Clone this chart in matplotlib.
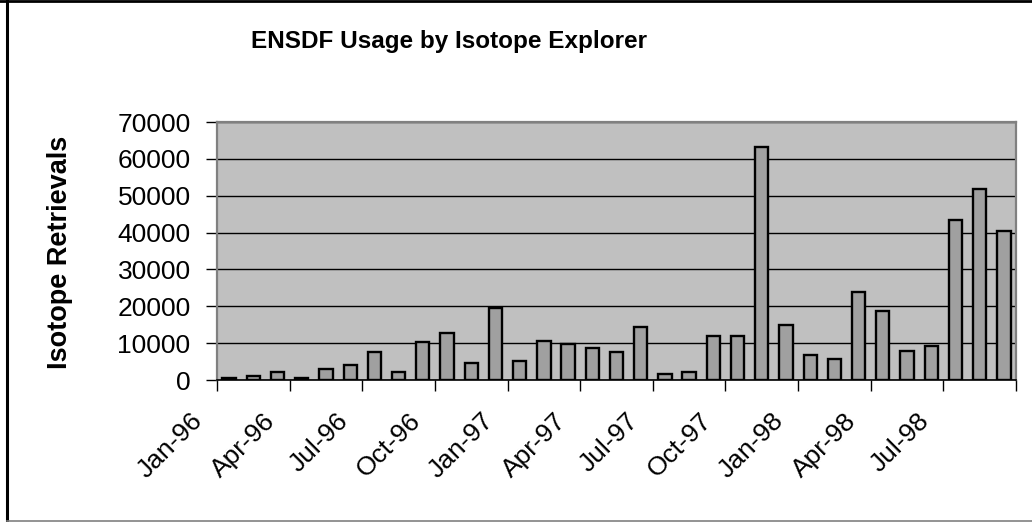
import matplotlib
matplotlib.use("Agg")
import matplotlib.pyplot as plt
from matplotlib.transforms import ScaledTranslation
from matplotlib.lines import Line2D
import numpy as np

months = ["Jan-96", "Feb-96", "Mar-96", "Apr-96", "May-96", "Jun-96", "Jul-96", "Aug-96",
          "Sep-96", "Oct-96", "Nov-96", "Dec-96", "Jan-97", "Feb-97", "Mar-97", "Apr-97",
          "May-97", "Jun-97", "Jul-97", "Aug-97", "Sep-97", "Oct-97", "Nov-97", "Dec-97",
          "Jan-98", "Feb-98", "Mar-98", "Apr-98", "May-98", "Jun-98", "Jul-98", "Aug-98",
          "Sep-98"]
retrievals = [600, 1200, 2250, 600, 3000, 4100, 7500, 2250, 10400, 12700, 4700, 19400,
              5200, 10700, 9700, 8700, 7500, 14300, 1600, 2200, 11900, 11900, 63200, 14800,
              6800, 5800, 23900, 18800, 8000, 9100, 43400, 51900, 40500]
y_ticks = [0, 10000, 20000, 30000, 40000, 50000, 60000, 70000]
title = "ENSDF Usage by Isotope Explorer"
ylabel = "Isotope Retrievals"

plt.rcParams['font.family'] = ['Liberation Sans', 'DejaVu Sans']

W, H = 1032, 522
fig = plt.figure(figsize=(W / 100, H / 100), dpi=100)
ax = fig.add_axes([217 / W, 1 - 380 / H, (1016 - 217) / W, (380 - 122) / H])
ax.set_facecolor("#c0c0c0")

x = np.arange(len(months))
ax.bar(x, retrievals, width=0.55, color="#a0a0a0", edgecolor="black", linewidth=1.7, zorder=3)

ax.set_xlim(-0.5, len(months) - 0.5)
ax.set_ylim(0, 70000)
ax.set_yticks(y_ticks)
ax.set_yticklabels([str(v) for v in y_ticks])
ax.yaxis.grid(True, color="black", linewidth=1.0, zorder=1)
ax.set_axisbelow(True)

# category boundary ticks (major, no labels), label positions (minor)
ax.set_xticks(np.arange(-0.5, len(months), 3))
ax.set_xticklabels([])
ax.set_xticks(x[::3], minor=True)
ax.set_xticklabels(months[::3], minor=True)
ax.tick_params(axis='x', which='major', length=8, width=1, color="black", direction='out')
ax.tick_params(axis='x', which='minor', length=0, pad=24, labelsize=19)
ax.tick_params(axis='y', length=8, width=1, color="black", direction='out', pad=11, labelsize=19)

for lab in ax.get_xticklabels(minor=True):
    lab.set_rotation(45)
    lab.set_rotation_mode('anchor')
    lab.set_ha('right')
    lab.set_va('center')
    lab.set_transform(lab.get_transform() + ScaledTranslation(-0.30, -0.04, fig.dpi_scale_trans))

for side in ["top", "right", "left"]:
    ax.spines[side].set_color("#808080")
    ax.spines[side].set_linewidth(1.6)
ax.spines["bottom"].set_color("black")
ax.spines["bottom"].set_linewidth(1.2)
ax.spines["bottom"].set_zorder(4)

fig.text(449 / W, 1 - 48 / H, title, ha='center', va='baseline', fontsize=17.5, fontweight='bold')
fig.text(60 / W, 1 - 252 / H, ylabel, ha='center', va='center', rotation=90,
         fontsize=19.5, fontweight='bold')

# chart frame
fig.add_artist(Line2D([7 / W, 7 / W], [0, 1], transform=fig.transFigure, color="black", linewidth=2.2))
fig.add_artist(Line2D([0, 1], [1 - 1 / H, 1 - 1 / H], transform=fig.transFigure, color="black", linewidth=2.0))
fig.add_artist(Line2D([7 / W, 1], [1 - 520.5 / H, 1 - 520.5 / H], transform=fig.transFigure, color="#808080", linewidth=1.2))

fig.savefig("out.png", dpi=100)
